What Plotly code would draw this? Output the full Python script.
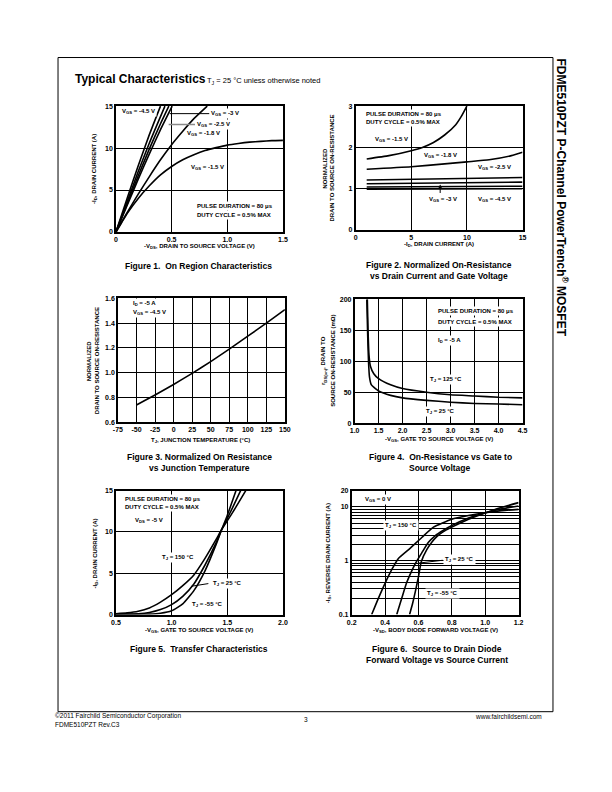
import math
import plotly.graph_objects as go

W, H = 612, 792
FONT = "Liberation Sans"

# ---------------- DATA ----------------
# Figure 1: On region characteristics (-VDS in V, -ID in A)
f1_vds = {
    "-4.5": [0, 0.1, 0.2, 0.3, 0.4],
    "-3.5": [0, 0.1, 0.2, 0.3, 0.44],
    "-3": [0, 0.1, 0.2, 0.3, 0.4, 0.475],
    "-2.5": [0, 0.1, 0.2, 0.3, 0.4, 0.505],
    "-1.8": [0, 0.1, 0.2, 0.3, 0.4, 0.5, 0.6, 0.7, 0.82],
    "-1.5": [0, 0.05, 0.1, 0.2, 0.3, 0.4, 0.5, 0.6, 0.7, 0.8, 0.9, 1.0, 1.1, 1.2, 1.3, 1.4, 1.5],
}
f1_id = {
    "-4.5": [0, 4.0, 7.9, 11.6, 15],
    "-3.5": [0, 3.6, 7.2, 10.6, 15],
    "-3": [0, 3.35, 6.7, 9.9, 12.9, 15],
    "-2.5": [0, 3.15, 6.3, 9.3, 12.2, 15],
    "-1.8": [0, 2.3, 4.5, 6.6, 8.6, 10.4, 12.0, 13.5, 15],
    "-1.5": [0, 1.1, 2.2, 4.0, 5.5, 6.8, 7.8, 8.6, 9.2, 9.7, 10.05, 10.35, 10.55, 10.7, 10.8, 10.88, 10.92],
}

# Figure 2: Normalized on-resistance vs drain current
f2_id = {
    "-1.5": [1, 3, 5, 6, 7, 8, 9, 9.5, 10],
    "-1.8": [1, 5, 8, 10, 12, 14, 15],
    "-2.5": [1, 15],
    "-3": [1, 15],
    "-3.5": [1, 15],
    "-4.5": [1, 15],
}
f2_r = {
    "-1.5": [1.72, 1.8, 1.92, 2.0, 2.12, 2.3, 2.55, 2.75, 3.0],
    "-1.8": [1.47, 1.53, 1.6, 1.65, 1.7, 1.8, 1.88],
    "-2.5": [1.21, 1.27],
    "-3": [1.12, 1.16],
    "-3.5": [1.04, 1.06],
    "-4.5": [0.99, 1.0],
}

# Figure 3: Normalized on-resistance vs junction temperature
f3_tj = [-50, -25, 0, 25, 50, 75, 100, 125, 150]
f3_r = [0.74, 0.82, 0.905, 0.995, 1.09, 1.19, 1.295, 1.40, 1.51]
f3_xticks = [-75, -50, -25, 0, 25, 50, 75, 100, 125, 150]

# Figure 4: On-resistance (mOhm) vs gate to source voltage
f4_vgs = {
    "125": [1.265, 1.28, 1.30, 1.33, 1.4, 1.5, 1.75, 2.0, 2.5, 3.0, 3.5, 4.0, 4.5],
    "25": [1.255, 1.27, 1.29, 1.31, 1.35, 1.45, 1.5, 1.75, 2.0, 2.5, 3.0, 3.5, 4.0, 4.5],
}
f4_r = {
    "125": [200, 150, 110, 92, 80, 72, 62, 56, 50, 46, 44, 42, 41],
    "25": [200, 150, 100, 75, 62, 55, 52, 45, 41, 37, 34, 32, 31, 30],
}

# Figure 5: Transfer characteristics
f5_vgs = {
    "150": [0.5, 0.6, 0.7, 0.8, 0.9, 1.0, 1.1, 1.2, 1.3, 1.4, 1.45, 1.55, 1.666],
    "25": [0.5, 0.7, 0.8, 0.9, 1.0, 1.1, 1.2, 1.3, 1.4, 1.45, 1.55, 1.62],
    "-55": [0.5, 0.8, 0.9, 1.0, 1.1, 1.2, 1.3, 1.4, 1.45, 1.5, 1.578],
}
f5_id = {
    "150": [0.1, 0.2, 0.4, 0.8, 1.5, 2.4, 3.5, 4.8, 6.8, 9.1, 10.3, 12.4, 15],
    "25": [0.05, 0.1, 0.25, 0.6, 1.2, 2.2, 3.7, 6.0, 8.7, 10.3, 13.0, 15],
    "-55": [0.02, 0.05, 0.15, 0.45, 1.3, 2.9, 5.3, 8.5, 10.3, 12.0, 15],
}

# Figure 6: Source to drain diode forward voltage
f6_vsd = {
    "150": [0.32, 0.36, 0.40, 0.44, 0.48, 0.55, 0.62, 0.69, 0.80, 0.9, 1.0, 1.1, 1.2],
    "25": [0.47, 0.50, 0.528, 0.555, 0.578, 0.62, 0.66, 0.70, 0.745, 0.8, 0.9, 1.0, 1.1, 1.2],
    "-55": [0.547, 0.565, 0.584, 0.60, 0.617, 0.65, 0.68, 0.71, 0.745, 0.8, 0.9, 1.0, 1.1, 1.2],
}
f6_is = {
    "150": [0.1, 0.2, 0.38, 0.68, 1.1, 1.7, 2.7, 4.2, 5.9, 6.9, 7.8, 8.5, 9.0],
    "25": [0.1, 0.2, 0.38, 0.6, 0.85, 1.4, 2.2, 2.9, 3.6, 4.5, 6.2, 7.8, 9.2, 10.4],
    "-55": [0.1, 0.16, 0.29, 0.5, 0.96, 1.6, 2.2, 2.8, 3.4, 4.2, 5.9, 7.7, 9.8, 12.0],
}
f6_yticks = [0.1, 0.2, 0.3, 0.4, 0.5, 0.6, 0.7, 0.8, 0.9, 1, 2, 3, 4, 5, 6, 7, 8, 9, 10, 20]
f6_ylabels = ["0.1", "", "", "", "", "", "", "", "", "1", "", "", "", "", "", "", "", "", "10", "20"]

# ---------------- HELPERS ----------------
def xd(a, b):
    return [a / W, b / W]

def yd(top, bottom):
    return [1 - bottom / H, 1 - top / H]

fig = go.Figure()

def add_lines(xs, ys, axis, smoothing=0.5):
    for k in xs:
        fig.add_trace(go.Scatter(x=xs[k], y=ys[k], mode="lines",
                                 line=dict(color="black", width=1.6, shape="spline", smoothing=smoothing),
                                 xaxis="x" + axis, yaxis="y" + axis, showlegend=False, hoverinfo="skip"))

add_lines(f1_vds, f1_id, "")
add_lines(f2_id, f2_r, "2")
add_lines({"r": f3_tj}, {"r": f3_r}, "3")
add_lines(f4_vgs, f4_r, "4")
add_lines(f5_vgs, f5_id, "5")
add_lines(f6_vsd, f6_is, "6")

tickfont = dict(family=FONT, size=7, color="black", weight="bold")

def axis(domain, rng, tickvals, ticktext=None, atype="linear", anchor=None):
    if ticktext is None:
        ticktext = [("%g" % v) for v in tickvals]
    return dict(domain=domain, range=rng, type=atype, showline=True, linecolor="black", linewidth=1.5,
                mirror=True, showgrid=True, gridcolor="black", gridwidth=1, zeroline=False, ticks="",
                tickfont=tickfont, fixedrange=True, tickmode="array", tickvals=tickvals,
                ticktext=ticktext, anchor=anchor)

fig.update_layout(
    xaxis=axis(xd(113, 283), [0, 1.5], [0, 0.5, 1.0, 1.5], ["0", "0.5", "1.0", "1.5"], anchor="y"),
    yaxis=axis(yd(103, 230), [0, 15], [0, 5, 10, 15], anchor="x"),
    xaxis2=axis(xd(357, 527), [0, 15], [0, 5, 10, 15], anchor="y2"),
    yaxis2=axis(yd(103, 228), [0, 3], [0, 1, 2, 3], anchor="x2"),
    xaxis3=axis(xd(115, 285), [-75, 150], f3_xticks, [str(v) for v in f3_xticks], anchor="y3"),
    yaxis3=axis(yd(297, 422), [0.6, 1.6], [0.6, 0.8, 1.0, 1.2, 1.4, 1.6],
                ["0.6", "0.8", "1.0", "1.2", "1.4", "1.6"], anchor="x3"),
    xaxis4=axis(xd(356, 527), [1.0, 4.5], [1.0, 1.5, 2.0, 2.5, 3.0, 3.5, 4.0, 4.5],
                ["1.0", "1.5", "2.0", "2.5", "3.0", "3.5", "4.0", "4.5"], anchor="y4"),
    yaxis4=axis(yd(298, 423), [0, 200], [0, 50, 100, 150, 200], anchor="x4"),
    xaxis5=axis(xd(113, 283), [0.5, 2.0], [0.5, 1.0, 1.5, 2.0], ["0.5", "1.0", "1.5", "2.0"], anchor="y5"),
    yaxis5=axis(yd(491, 616), [0, 15], [0, 5, 10, 15], anchor="x5"),
    xaxis6=axis(xd(353, 523), [0.2, 1.2], [0.2, 0.4, 0.6, 0.8, 1.0, 1.2],
                ["0.2", "0.4", "0.6", "0.8", "1.0", "1.2"], anchor="y6"),
    yaxis6=axis(yd(491, 616), [-1, math.log10(20)], f6_yticks, f6_ylabels, atype="log", anchor="x6"),
    autosize=True, margin=dict(l=0, r=0, t=0, b=0, pad=0),
    paper_bgcolor="white", plot_bgcolor="white", showlegend=False,
    font=dict(family=FONT, color="black"),
)

anns = []

def pa(text, px, py, size=6, bold=True, angle=0, xanchor="center"):
    anns.append(dict(text=text, x=px / W, y=1 - py / H, xref="paper", yref="paper", showarrow=False,
                     font=dict(family=FONT, size=size, color="black", weight="bold" if bold else "normal"),
                     textangle=angle, xanchor=xanchor, yanchor="middle", borderpad=0))

def da(text, x, y, axis, size=6, white=True):
    a = dict(text=text, x=x, y=y, xref="x" + axis, yref="y" + axis, showarrow=False,
             font=dict(family=FONT, size=size, color="black", weight="bold"),
             xanchor="left", yanchor="middle", borderpad=1)
    if white:
        a["bgcolor"] = "white"
    anns.append(a)

def pointer(x0, y0, x1, y1, axis, color="black", width=1, head=0):
    anns.append(dict(text="", x=x1, y=y1, ax=x0, ay=y0, xref="x" + axis, yref="y" + axis,
                     axref="x" + axis, ayref="y" + axis, showarrow=True, arrowhead=head,
                     arrowsize=0.8, arrowwidth=width, arrowcolor=color, standoff=0, startstandoff=0))

VGS = "V<sub>GS</sub>"
TJ = "T<sub>J</sub>"
L = math.log10

# Title
pa("Typical Characteristics", 70, 76, size=12, xanchor="left")
pa("T<sub>J</sub> = 25 °C unless otherwise noted", 205, 78, size=7.5, bold=False, xanchor="left")

# Figure 1 labels
pointer(0.47, 14.1, 0.84, 14.1, "")
pointer(0.46, 12.8, 0.71, 12.8, "", color="#8a8a8a", width=1.5)
da(VGS + " = -4.5 V", 0.04, 14.4, "")
da(VGS + " = -3 V", 0.84, 14.1, "")
da(VGS + " = -2.5 V", 0.71, 12.8, "")
da(VGS + " = -1.8 V", 0.62, 11.7, "", white=False)
da(VGS + " = -1.5 V", 0.66, 7.7, "", white=False)
da("PULSE DURATION = 80 μs", 0.71, 3.05, "")
da("DUTY CYCLE = 0.5% MAX", 0.71, 2.05, "")

# Figure 2 labels
da("PULSE DURATION = 80 μs", 0.73, 2.82, "2")
da("DUTY CYCLE = 0.5% MAX", 0.73, 2.61, "2")
da(VGS + " = -1.5 V", 1.6, 2.2, "2")
da(VGS + " = -1.8 V", 6.0, 1.8, "2", white=False)
da(VGS + " = -2.5 V", 10.85, 1.51, "2")
da(VGS + " = -3 V", 6.45, 0.73, "2", white=False)
da(VGS + " = -4.5 V", 10.85, 0.73, "2", white=False)
pointer(7.6, 0.86, 7.6, 1.10, "2", head=2)

# Figure 3 labels
da("I<sub>D</sub> = -5 A", -57, 1.555, "3")
da(VGS + " = -4.5 V", -57, 1.49, "3")

# Figure 4 labels
da("PULSE DURATION = 80 μs", 2.69, 182, "4")
da("DUTY CYCLE = 0.5% MAX", 2.69, 164, "4")
da("I<sub>D</sub> = -5 A", 2.69, 134, "4")
da(TJ + " = 125 °C", 2.52, 70, "4")
da(TJ + " = 25 °C", 2.45, 19, "4")

# Figure 5 labels
pointer(1.165, 3.4, 1.33, 3.75, "5")
da("PULSE DURATION = 80 μs", 0.56, 14.0, "5")
da("DUTY CYCLE = 0.5% MAX", 0.56, 13.0, "5")
da("V<sub>DS</sub> = -5 V", 0.65, 11.4, "5", white=False)
da(TJ + " = 150 °C", 0.9, 6.9, "5")
da(TJ + " = 25 °C", 1.356, 3.8, "5")
da(TJ + " = -55 °C", 1.164, 1.2, "5", white=False)

# Figure 6 labels (log y-axis: positions in log10 units)
pointer(0.585, L(0.89), 0.745, L(1.02), "6")
da(VGS + " = 0 V", 0.27, L(13.8), "6")
da(TJ + " = 150 °C", 0.385, L(4.5), "6")
da(TJ + " = 25 °C", 0.745, L(1.05), "6")
da(TJ + " = -55 °C", 0.64, L(0.25), "6")

# Axis titles
pa("-I<sub>D</sub>, DRAIN CURRENT (A)", 91, 166, angle=-90)
pa("-V<sub>DS</sub>, DRAIN TO SOURCE VOLTAGE (V)", 198, 245)
pa("NORMALIZED", 325, 166, angle=-90)
pa("DRAIN TO SOURCE ON-RESISTANCE", 333, 166, angle=-90)
pa("-I<sub>D</sub>, DRAIN CURRENT (A)", 442, 243)
pa("NORMALIZED", 85, 360, angle=-90)
pa("DRAIN TO SOURCE ON-RESISTANCE", 93, 360, angle=-90)
pa("T<sub>J</sub>, JUNCTION TEMPERATURE (°C)", 199, 440)
pa("r<sub>DS(on)</sub>, DRAIN TO", 325, 360, angle=-90)
pa("SOURCE ON-RESISTANCE (mΩ)", 334, 360, angle=-90)
pa("-V<sub>GS</sub>, GATE TO SOURCE VOLTAGE (V)", 442, 439)
pa("-I<sub>D</sub>, DRAIN CURRENT (A)", 92, 554, angle=-90)
pa("-V<sub>GS</sub>, GATE TO SOURCE VOLTAGE (V)", 198, 632)
pa("-I<sub>S</sub>, REVERSE DRAIN CURRENT (A)", 329, 554, angle=-90)
pa("-V<sub>SD</sub>, BODY DIODE FORWARD VOLTAGE (V)", 438, 632)

# Captions
CS = 8.5
pa("Figure 1.  On Region Characteristics", 197, 264, size=CS)
pa("Figure 2. Normalized On-Resistance", 442, 263, size=CS)
pa("vs Drain Current and Gate Voltage", 442, 274, size=CS)
pa("Figure 3. Normalized On Resistance", 198, 457, size=CS)
pa("vs Junction Temperature", 198, 468, size=CS)
pa("Figure 4.  On-Resistance vs Gate to", 443, 457, size=CS)
pa("Source Voltage", 443, 468, size=CS)
pa("Figure 5.  Transfer Characteristics", 198, 651, size=CS)
pa("Figure 6.  Source to Drain Diode", 440, 651, size=CS)
pa("Forward Voltage vs Source Current", 440, 662, size=CS)

# Side title
pa("FDME510PZT P-Channel PowerTrench<sup>®</sup> MOSFET", 567, 195, size=12, angle=90)

# Footer
pa("©2011 Fairchild Semiconductor Corporation", 50, 718, size=6.5, bold=False, xanchor="left")
pa("FDME510PZT Rev.C3", 50, 727, size=6.5, bold=False, xanchor="left")
pa("3", 306, 722, size=6.5, bold=False)
pa("www.fairchildsemi.com", 548, 719, size=6.5, bold=False, xanchor="right")

fig.update_layout(annotations=anns)

# Page border
fig.add_shape(type="rect", xref="paper", yref="paper", x0=54 / W, x1=558 / W, y0=1 - 714 / H, y1=1 - 54 / H,
              line=dict(color="black", width=1), layer="below")

POST = ("document.documentElement.style.margin='0';document.documentElement.style.overflow='hidden';"
        "document.body.style.margin='0';document.body.style.overflow='hidden';"
        "var gd=document.getElementById('{plot_id}');gd.style.width='100vw';gd.style.height='100vh';"
        "Plotly.Plots.resize(gd);")

fig.write_html("out.html", config={"displayModeBar": False, "responsive": True},
               default_width="100vw", default_height="100vh", post_script=POST)
